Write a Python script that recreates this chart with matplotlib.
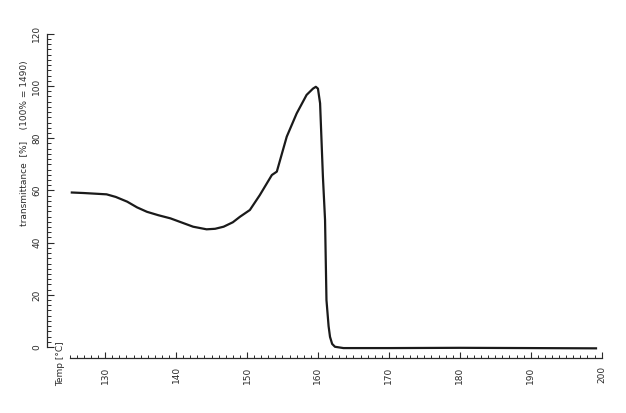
import matplotlib
matplotlib.use("Agg")
import matplotlib.pyplot as plt
from matplotlib.ticker import FixedLocator

temp = [125.3, 127.0, 130.2, 131.5, 133.1, 134.5, 135.9, 137.5, 139.2, 141.0,
        142.4, 144.3, 145.5, 146.7, 148.0, 149.0, 150.4, 151.8, 153.5, 154.2,
        155.6, 157.0, 158.4, 159.3, 159.7, 160.0, 160.3, 160.7, 161.0, 161.2,
        161.5, 161.7, 162.0, 162.4, 163.6, 170.0, 180.0, 190.0, 199.2]
transmittance = [59.2, 59.0, 58.5, 57.5, 55.7, 53.5, 51.8, 50.5, 49.3, 47.5,
                 46.1, 45.1, 45.3, 46.1, 47.8, 49.9, 52.5, 58.2, 65.9, 67.2,
                 80.6, 89.5, 96.6, 99.0, 99.7, 99.0, 93.4, 65.2, 48.7, 18.0,
                 8.0, 3.9, 1.2, 0.1, -0.4, -0.4, -0.3, -0.4, -0.5]
x_ticks = [130, 140, 150, 160, 170, 180, 190, 200]
y_ticks = [0, 20, 40, 60, 80, 100, 120]

ink = "#2a2a2a"
fig = plt.figure(figsize=(6.26, 4.13), dpi=100)
ax = fig.add_axes([47/626, 1-358/413, (603.8-47)/626, (358-31.2)/413])
ax.plot(temp, transmittance, color="#1a1a1a", lw=1.6, solid_joinstyle="round")

ax.set_xlim(121.8, 200.3)
ax.set_ylim(-4.2, 121)
for s in ("top", "right"):
    ax.spines[s].set_visible(False)
ax.spines["left"].set_bounds(0, 120)
ax.spines["bottom"].set_bounds(125, 200)
for s in ("left", "bottom"):
    ax.spines[s].set_color(ink)
    ax.spines[s].set_linewidth(0.9)

ax.set_xticks(x_ticks)
ax.set_yticks(y_ticks)
ax.xaxis.set_minor_locator(FixedLocator(list(range(125, 201))))
ax.yaxis.set_minor_locator(FixedLocator(list(range(0, 121, 2))))
ax.set_xticklabels([str(v) for v in x_ticks], rotation=90, fontsize=6.5, color=ink)
ax.set_yticklabels([str(v) for v in y_ticks], rotation=90, fontsize=6.5, color=ink,
                   va="center")
ax.tick_params(axis="x", which="major", direction="in", length=4, width=0.8, colors=ink, pad=6)
ax.tick_params(axis="x", which="minor", direction="in", length=2, width=0.7, colors=ink)
ax.tick_params(axis="y", which="major", direction="in", length=5, width=0.8, colors=ink, pad=4)
ax.tick_params(axis="y", which="minor", direction="in", length=3, width=0.7, colors=ink)

fig.text(25/626, 1-143/413, "transmittance  [%]    (100% = 1490)", rotation=90,
         fontsize=6.5, color=ink, ha="center", va="center")
fig.text(61/626, 1-364/413, "Temp [°C]", rotation=90, fontsize=6.5, color=ink,
         ha="center", va="center")

fig.savefig("out.png", dpi=100, facecolor="white")
